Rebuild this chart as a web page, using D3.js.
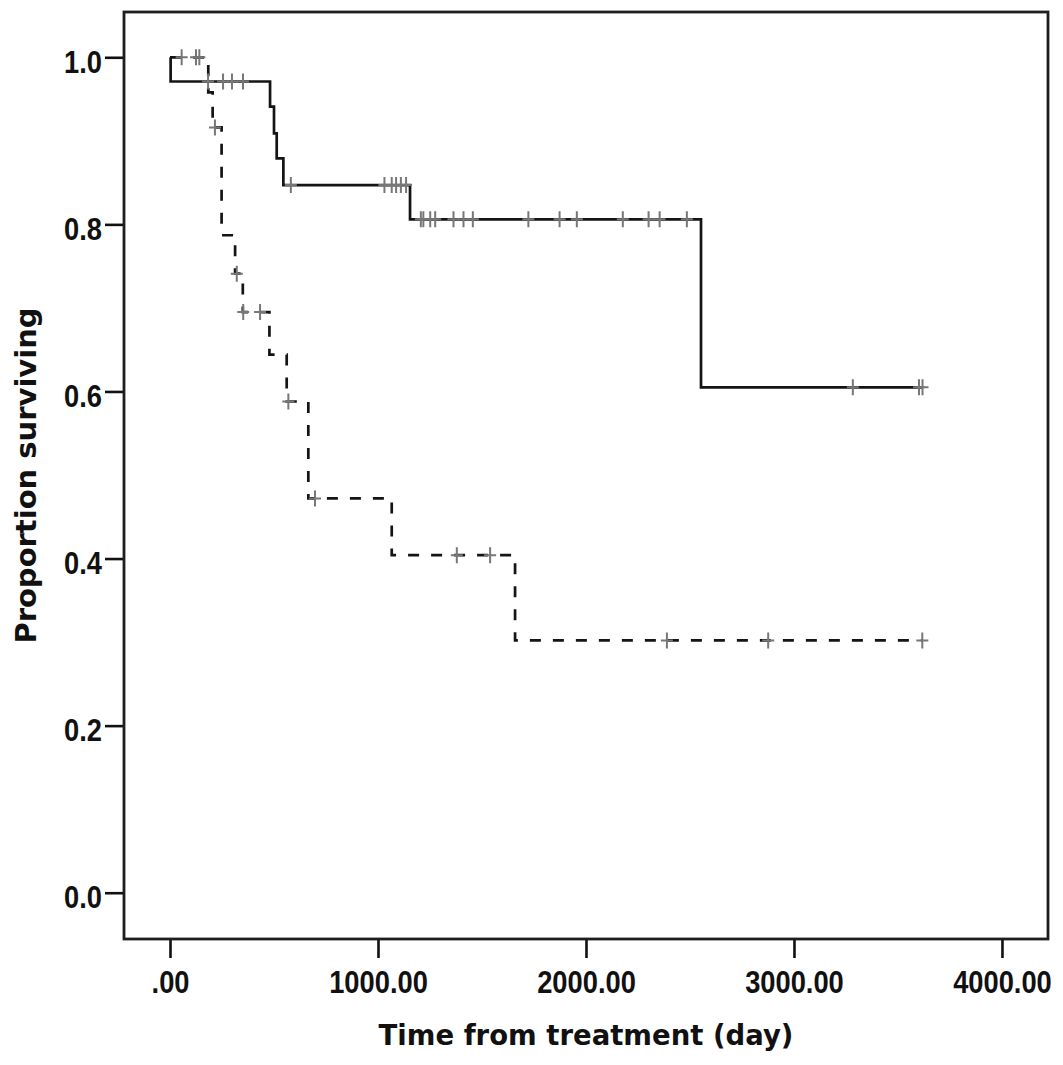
<!DOCTYPE html>
<html>
<head>
<meta charset="utf-8">
<script src="https://cdn.jsdelivr.net/npm/d3@7"></script>
<style>
  body { margin: 0; background: #fff; }
</style>
</head>
<body>
<div id="chart"></div>
<script>
// survival steps
var solidTimes = [0, 3, 481, 500, 513, 545, 1154, 2553];
var solidSurv  = [1.0, 0.971, 0.941, 0.909, 0.879, 0.847, 0.806, 0.605];
var solidEnd = 3620;
var solidCensored = [183, 255, 298, 351, 581, 1031, 1066, 1087, 1110, 1135,
  1206, 1218, 1251, 1275, 1363, 1411, 1456, 1723, 1873, 1956, 2177, 2301,
  2354, 2485, 3283, 3601, 3618];

var dashTimes = [0, 184, 205, 248, 313, 350, 478, 561, 665, 1066, 1659];
var dashSurv  = [1.0, 0.958, 0.916, 0.787, 0.741, 0.695, 0.644, 0.588, 0.472, 0.404, 0.302];
var dashEnd = 3617;
var dashCensored = [56, 125, 141, 216, 321, 352, 433, 569, 697, 1379, 1539, 2389, 2876, 3617];

var xTicks = [0, 1000, 2000, 3000, 4000];
var xTickLabels = [".00", "1000.00", "2000.00", "3000.00", "4000.00"];
var yTicks = [0, 0.2, 0.4, 0.6, 0.8, 1.0];
var yTickLabels = ["0.0", "0.2", "0.4", "0.6", "0.8", "1.0"];

var w = 1063;
var h = 1065;
var plotL = 124, plotR = 1048, plotT = 12, plotB = 939;

var xScale = d3.scaleLinear()
    .domain([-221.2, 4221.3])
    .range([plotL, plotR]);

var yScale = d3.scaleLinear()
    .domain([-0.0554, 1.0542])
    .range([plotB, plotT]);

var svg = d3.select("#chart")
    .append("svg")
    .attr("width", w)
    .attr("height", h);

//Axes
var xAxis = d3.axisBottom(xScale)
    .tickValues(xTicks)
    .tickFormat(function(d, i) { return xTickLabels[i]; })
    .tickSize(19)
    .tickPadding(13);

var yAxis = d3.axisLeft(yScale)
    .tickValues(yTicks)
    .tickFormat(function(d, i) { return yTickLabels[i]; })
    .tickSize(19)
    .tickPadding(3);

var gx = svg.append("g")
    .attr("transform", "translate(0," + plotB + ")")
    .call(xAxis);

var gy = svg.append("g")
    .attr("transform", "translate(" + plotL + ",0)")
    .call(yAxis);

[gx, gy].forEach(function(g) {
    g.select(".domain").remove();
    g.selectAll("line").attr("stroke", "#111").attr("stroke-width", 2.6);
    g.selectAll("text")
        .attr("font-family", "'Liberation Sans', Arial, sans-serif")
        .attr("font-weight", "bold")
        .attr("font-size", "31px")
        .attr("fill", "#111")
        .each(function() {
            // squeeze the glyphs a little, the reference labels are condensed
            var len = this.getComputedTextLength();
            d3.select(this)
                .attr("textLength", len * 0.88)
                .attr("lengthAdjust", "spacingAndGlyphs");
        });
});
gy.selectAll("text").attr("dy", "0.48em");

//Frame
svg.append("rect")
    .attr("x", plotL)
    .attr("y", plotT)
    .attr("width", plotR - plotL)
    .attr("height", plotB - plotT)
    .attr("fill", "none")
    .attr("stroke", "#1e1e1e")
    .attr("stroke-width", 2.8);

//Curves
function stepPoints(times, surv, end) {
    var pts = times.map(function(t, i) { return [t, surv[i]]; });
    pts.push([end, surv[surv.length - 1]]);
    return pts;
}

function levelAt(times, surv, t) {
    var s = surv[0];
    for (var i = 0; i < times.length; i++) {
        if (times[i] <= t) s = surv[i];
    }
    return s;
}

var line = d3.line()
    .x(function(d) { return xScale(d[0]); })
    .y(function(d) { return yScale(d[1]); })
    .curve(d3.curveStepAfter);

var groups = [
    { times: solidTimes, surv: solidSurv, end: solidEnd, cens: solidCensored, dash: null },
    { times: dashTimes, surv: dashSurv, end: dashEnd, cens: dashCensored, dash: "11,12" }
];

groups.forEach(function(g) {
    svg.append("path")
        .datum(stepPoints(g.times, g.surv, g.end))
        .attr("d", line)
        .attr("fill", "none")
        .attr("stroke", "#141414")
        .attr("stroke-width", 2.7)
        .attr("stroke-dasharray", g.dash);
});

//Censor marks
groups.forEach(function(g) {
    svg.append("g")
        .selectAll("path")
        .data(g.cens)
        .enter()
        .append("path")
        .attr("d", function(d) {
            var cx = xScale(d);
            var cy = yScale(levelAt(g.times, g.surv, d));
            return "M" + (cx - 6) + "," + cy + "H" + (cx + 6) +
                   "M" + cx + "," + (cy - 8) + "V" + (cy + 8);
        })
        .attr("fill", "none")
        .attr("stroke", "#777")
        .attr("stroke-width", 2);
});

//Axis titles
svg.append("text")
    .attr("x", (plotL + plotR) / 2)
    .attr("y", 1045)
    .attr("text-anchor", "middle")
    .attr("font-family", "'DejaVu Sans', sans-serif")
    .attr("font-weight", "bold")
    .attr("font-size", "27.5px")
    .attr("fill", "#111")
    .text("Time from treatment (day)");

svg.append("text")
    .attr("transform", "translate(36," + ((plotT + plotB) / 2) + ") rotate(-90)")
    .attr("text-anchor", "middle")
    .attr("font-family", "'DejaVu Sans', sans-serif")
    .attr("font-weight", "bold")
    .attr("font-size", "29px")
    .attr("fill", "#111")
    .text("Proportion surviving");
</script>
</body>
</html>
